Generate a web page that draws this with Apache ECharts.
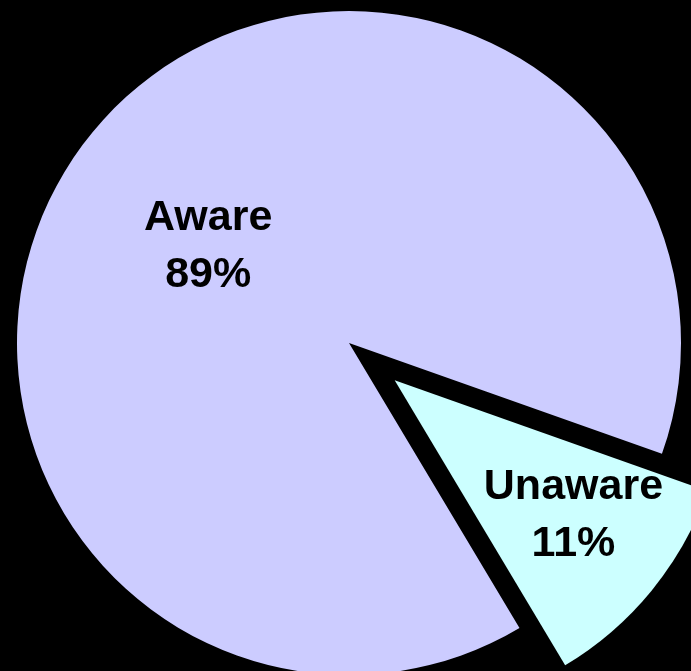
<!DOCTYPE html>
<html>
<head>
<meta charset="utf-8">
<script src="https://cdn.jsdelivr.net/npm/echarts@6/dist/echarts.min.js"></script>
<style>
html,body{margin:0;padding:0;background:#000;}
#chart{width:691px;height:671px;}
</style>
</head>
<body>
<div id="chart"></div>
<script>
var categories = ['Unaware', 'Aware'];
var values = [11, 89];
var percentLabels = ['11%', '89%'];
var sliceColors = ['#CCFFFF', '#CCCCFF'];
var explodedIndex = 0;
var labelShift = [[48, 28], [-10, 11]];

var chart = echarts.init(document.getElementById('chart'), null, {renderer: 'canvas'});
var data = categories.map(function (c, i) {
  return {
    name: c,
    value: values[i],
    selected: i === explodedIndex,
    itemStyle: {color: sliceColors[i]},
    select: {itemStyle: {color: sliceColors[i], borderWidth: 0}},
    label: {formatter: c + '\n' + percentLabels[i]}
  };
});
chart.setOption({
  backgroundColor: '#000000',
  animation: false,
  series: [{
    type: 'pie',
    center: [349, 343],
    radius: [0, 332],
    startAngle: 340.5,
    clockwise: true,
    selectedMode: 'single',
    selectedOffset: 59,
    avoidLabelOverlap: false,
    itemStyle: {borderWidth: 0},
    label: {
      show: true,
      position: 'inside',
      color: '#000000',
      fontFamily: 'Liberation Sans, Arial, Helvetica, sans-serif',
      fontWeight: 'bold',
      fontSize: 43,
      lineHeight: 57,
      align: 'center'
    },
    labelLine: {show: false},
    emphasis: {disabled: true},
    labelLayout: function (p) {
      var s = labelShift[p.dataIndex];
      return {dx: s[0], dy: s[1]};
    },
    data: data
  }]
});
</script>
</body>
</html>
